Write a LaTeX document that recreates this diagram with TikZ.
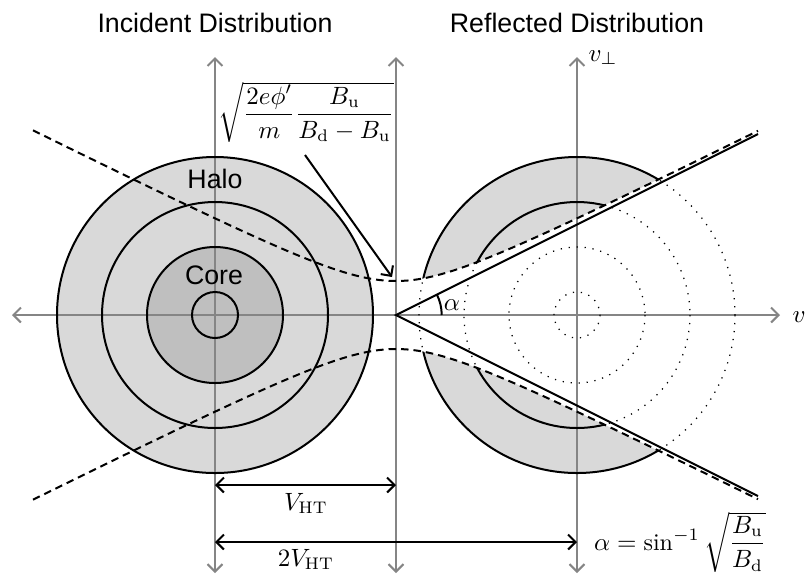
\documentclass[tikz,border=0pt]{standalone}
\usepackage{amsmath}
\usepackage{fontspec}
\setsansfont{Liberation Sans}
\usetikzlibrary{arrows.meta}
\definecolor{fillA}{gray}{0.85}
\definecolor{fillB}{gray}{0.75}
\definecolor{axisgray}{gray}{0.52}
\tikzset{
  axisline/.style={draw=axisgray, line width=0.8pt, >={Straight Barb[length=3pt,width=6pt]}, <->},
  outline/.style={draw=black, line width=0.8pt},
  hypline/.style={draw=black, line width=0.8pt, dash pattern=on 3pt off 2pt},
  dotline/.style={draw=black, line width=0.5pt, dash pattern=on 0.5pt off 2.7pt},
  dimarrow/.style={draw=black, line width=0.8pt, >={Straight Barb[length=3pt,width=6pt]}, <->},
  pointer/.style={draw=black, line width=0.8pt, >={Straight Barb[length=3pt,width=6pt]}, ->},
  sflbl/.style={font=\sffamily\fontsize{10.7}{13}\selectfont, inner sep=0pt},
  mlbl/.style={font=\fontsize{9.6}{11.5}\selectfont, inner sep=0pt},
}
\begin{document}
\begin{tikzpicture}[x=0.4pt, y=-0.4pt]
\useasboundingbox (0,0) rectangle (806,576);
\coordinate (O1) at (215,315);
\coordinate (O2) at (577,315);
\coordinate (V) at (396,315);
% fills
\fill[fillA] (O1) circle[radius=158];
\fill[fillB] (O1) circle[radius=68];
\fill[fillA] (O2) circle[radius=158];
\fill[white] plot[domain=396:760, samples=80] (\x,{315-10*sqrt(11.56+(0.05*(\x-396))^2)})
  -- plot[domain=760:396, samples=80] (\x,{315+10*sqrt(11.56+(0.05*(\x-396))^2)}) -- cycle;
% axes
\coordinate (hl) at (12,315); \coordinate (hr) at (780,315);
\coordinate (a1t) at (215,57); \coordinate (a1b) at (215,573);
\coordinate (a2t) at (396,57); \coordinate (a2b) at (396,573);
\coordinate (a3t) at (577,57); \coordinate (a3b) at (577,573);
\draw[axisline] (hl) -- (hr);
\draw[axisline] (a1b) -- (a1t);
\draw[axisline] (a2b) -- (a2t);
\draw[axisline] (a3b) -- (a3t);
% incident outlines
\draw[outline] (O1) circle[radius=158];
\draw[outline] (O1) circle[radius=113];
\draw[outline] (O1) circle[radius=68];
\draw[outline] (O1) circle[radius=23];
% reflected outlines
\begin{scope}
\clip plot[domain=396:760, samples=80] (\x,{315-10*sqrt(11.56+(0.05*(\x-396))^2)}) -- (760,100) -- (396,100) -- cycle;
\draw[outline] (O2) circle[radius=158];
\draw[outline] (O2) circle[radius=113];
\end{scope}
\begin{scope}
\clip plot[domain=396:760, samples=80] (\x,{315+10*sqrt(11.56+(0.05*(\x-396))^2)}) -- (760,530) -- (396,530) -- cycle;
\draw[outline] (O2) circle[radius=158];
\draw[outline] (O2) circle[radius=113];
\end{scope}
\begin{scope}
\clip plot[domain=396:760, samples=80] (\x,{315-10*sqrt(11.56+(0.05*(\x-396))^2)})
  -- plot[domain=760:396, samples=80] (\x,{315+10*sqrt(11.56+(0.05*(\x-396))^2)}) -- cycle;
\draw[dotline] (O2) circle[radius=158];
\draw[dotline] (O2) circle[radius=113];
\draw[dotline] (O2) circle[radius=68];
\draw[dotline] (O2) circle[radius=23];
\end{scope}
% hyperbola
\draw[hypline] plot[domain=33:758, samples=150] (\x,{315-10*sqrt(11.56+(0.05*(\x-396))^2)});
\draw[hypline] plot[domain=33:758, samples=150] (\x,{315+10*sqrt(11.56+(0.05*(\x-396))^2)});
% loss cone
\coordinate (lcu) at (758,134);
\coordinate (lcd) at (758,496);
\draw[outline] (lcu) -- (V) -- (lcd);
\draw[outline] (V) ++(45.7,0) arc[start angle=0, end angle=-26.57, radius=45.7];
% dimension arrows
\coordinate (d1l) at (215,485); \coordinate (d1r) at (396,485);
\coordinate (d2l) at (215,542); \coordinate (d2r) at (577,542);
\draw[dimarrow] (d1l) -- (d1r);
\draw[dimarrow] (d2l) -- (d2r);
% labels
\node[sflbl, anchor=base] (t1) at (215,32) {Incident Distribution};
\node[sflbl, anchor=base] (t2) at (577,32) {Reflected Distribution};
\node[sflbl, anchor=base] (halo) at (215,188) {Halo};
\node[sflbl, anchor=base] (core) at (214,284) {Core};
\node[mlbl, anchor=base west] (vperp) at (588,61) {$v_\perp$};
\node[mlbl, anchor=base west] (vpar) at (792,322) {$v$};
\node[mlbl] (alpha) at (452,305) {$\alpha$};
\node[mlbl, anchor=base] (vht) at (306,510) {$V_\mathrm{HT}$};
\node[mlbl, anchor=base] (vht2) at (306,566) {$2V_\mathrm{HT}$};
\node[mlbl] (phi) at (306,112) {$\sqrt{\dfrac{2e\phi'}{m}\dfrac{B_\mathrm{u}}{B_\mathrm{d}-B_\mathrm{u}}}$};
\node[mlbl] (afor) at (680,542) {$\alpha = \sin^{-1}\sqrt{\dfrac{B_\mathrm{u}}{B_\mathrm{d}}}$};
\coordinate (ps) at (305,155);
\coordinate (pt) at (392,277);
\draw[pointer] (ps) -- (pt);
\end{tikzpicture}
\end{document}
